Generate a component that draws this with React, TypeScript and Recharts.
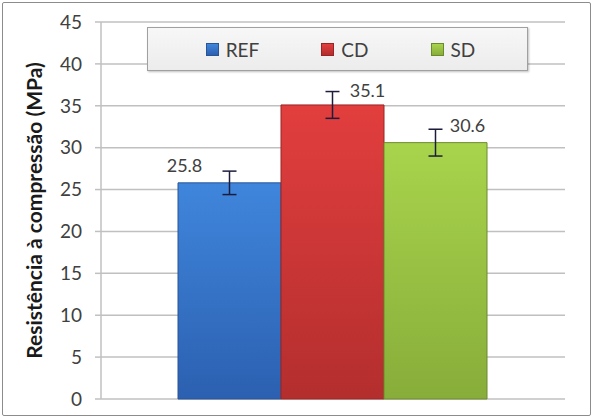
import { BarChart, Bar, XAxis, YAxis, CartesianGrid, ErrorBar, LabelList } from 'recharts';

const SERIES = ['REF', 'CD', 'SD'];
const VALUES = [25.8, 35.1, 30.6];
const ERRORS = [1.4, 1.6, 1.6];
const Y_TICKS = [0, 5, 10, 15, 20, 25, 30, 35, 40, 45];

const COLORS = [
  { top: '#3f86dc', bottom: '#2c60b0', edge: '#2a5595' },
  { top: '#e23e3e', bottom: '#b42e2e', edge: '#9a2424' },
  { top: '#a8d44c', bottom: '#88ad3a', edge: '#6b8a2c' },
];
// manual label nudges (the original labels were dragged around)
const LABEL_OFFSET = [
  { dx: -45, dy: -18 },
  { dx: 35, dy: -15 },
  { dx: 32, dy: -18 },
];

const row: Record<string, number | string> = { name: '' };
SERIES.forEach((s, i) => {
  row[s] = VALUES[i];
  row[s + '_err'] = ERRORS[i];
});
const data = [row];

const FONT = 'Lato, "Open Sans", sans-serif';
const TEXT = '#404040';

function LegendBox() {
  return (
    <div
      style={{
        position: 'absolute',
        left: 147,
        top: 27,
        width: 381,
        height: 44,
        boxSizing: 'border-box',
        border: '1px solid #a0a0a0',
        background: 'linear-gradient(#f7f7f7, #ececec)',
        boxShadow: '1px 1px 2px rgba(0,0,0,0.25)',
        display: 'flex',
        alignItems: 'center',
        justifyContent: 'center',
        gap: 62,
        paddingLeft: 6,
        fontFamily: FONT,
        fontSize: 19,
        color: TEXT,
      }}
    >
      {SERIES.map((s, i) => (
        <div key={s} style={{ display: 'flex', alignItems: 'center' }}>
          <span
            style={{
              width: 13,
              height: 13,
              marginRight: 7,
              background: `linear-gradient(${COLORS[i].top}, ${COLORS[i].bottom})`,
              border: `1px solid ${COLORS[i].edge}`,
              boxSizing: 'border-box',
            }}
          />
          <span>{s}</span>
        </div>
      ))}
    </div>
  );
}

function makeLabel(i: number) {
  return (props: any) => {
    const { x, y, width, value } = props;
    const o = LABEL_OFFSET[i];
    return (
      <text
        x={x + width / 2 + o.dx}
        y={y + o.dy}
        textAnchor="middle"
        dominantBaseline="central"
        fontFamily={FONT}
        fontSize={18}
        fill={TEXT}
      >
        {Number(value).toFixed(1)}
      </text>
    );
  };
}

export default function App() {
  return (
    <div style={{ position: 'absolute', left: 0, top: 0, width: 595, height: 418, background: '#fff' }}>
      <div
        style={{
          position: 'absolute',
          left: 2,
          top: 2,
          width: 587,
          height: 412,
          border: '1px solid #8c8c8c',
          borderRadius: 2,
        }}
      />
      <BarChart
        width={595}
        height={418}
        data={data}
        margin={{ top: 22, right: 30, bottom: 19, left: 0 }}
        barCategoryGap={77}
        barGap={0}
      >
        <defs>
          {COLORS.map((c, i) => (
            <linearGradient key={i} id={`grad${i}`} x1="0" y1="0" x2="0" y2="1">
              <stop offset="0%" stopColor={c.top} />
              <stop offset="100%" stopColor={c.bottom} />
            </linearGradient>
          ))}
        </defs>
        <CartesianGrid vertical={false} stroke="#c0c0c0" strokeWidth={1.5} />
        <XAxis dataKey="name" hide />
        <YAxis
          width={101}
          domain={[0, 45]}
          ticks={Y_TICKS}
          interval={0}
          tickSize={6}
          tickMargin={13}
          axisLine={{ stroke: '#c0c0c0', strokeWidth: 1.5 }}
          tickLine={{ stroke: '#c0c0c0', strokeWidth: 1.5 }}
          tick={{ fill: TEXT, fontFamily: FONT, fontSize: 19 }}
          label={{
            value: 'Resistência à compressão (MPa)',
            angle: -90,
            position: 'insideLeft',
            dx: 30,
            dy: 0,
            style: { textAnchor: 'middle', fill: '#1a1a1a', fontFamily: FONT, fontSize: 21, fontWeight: 'bold' },
          }}
        />
        {SERIES.map((s, i) => (
          <Bar
            key={s}
            dataKey={s}
            fill={`url(#grad${i})`}
            stroke={COLORS[i].edge}
            strokeWidth={1}
            isAnimationActive={false}
          >
            <ErrorBar dataKey={s + '_err'} width={7} stroke="#1c1c3c" strokeWidth={1.5} />
            <LabelList dataKey={s} content={makeLabel(i)} />
          </Bar>
        ))}
      </BarChart>
      <LegendBox />
    </div>
  );
}
